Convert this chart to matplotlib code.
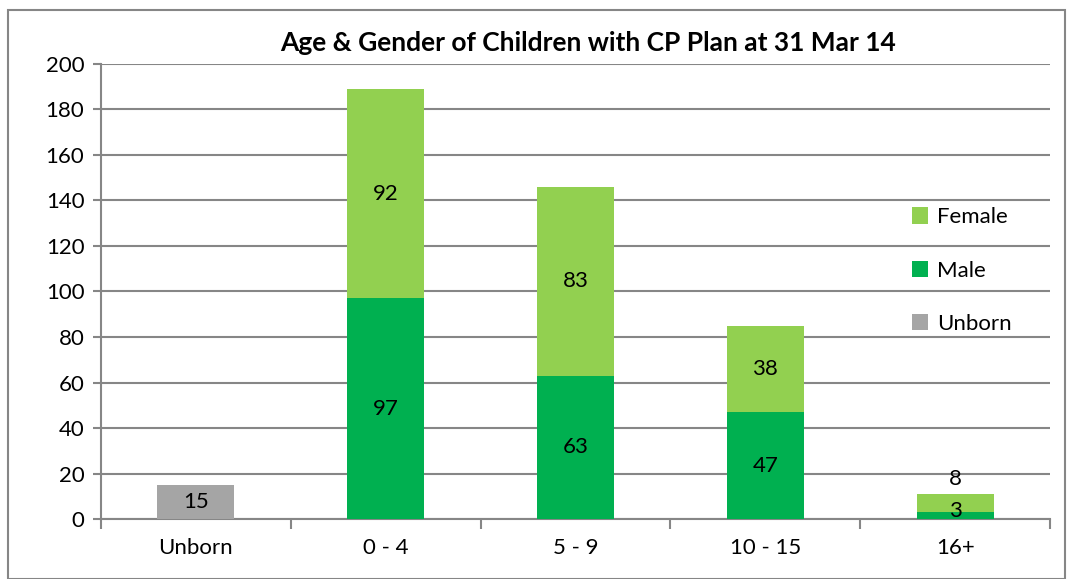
import numpy as np
import matplotlib
matplotlib.use("Agg")
import matplotlib.pyplot as plt
from matplotlib.patches import Rectangle

categories = ["Unborn", "0 - 4", "5 - 9", "10 - 15", "16+"]
unborn = [15, 0, 0, 0, 0]
male = [0, 97, 63, 47, 3]
female = [0, 92, 83, 38, 8]

c_female = "#92D050"
c_male = "#00B050"
c_unborn = "#A5A5A5"
c_grid = "#868686"

plt.rcParams["font.family"] = ["Lato", "DejaVu Sans"]

fig = plt.figure(figsize=(10.68, 5.79), dpi=100)
ax = fig.add_axes([0.0946, 0.1036, 0.8886, 0.7859])

x = np.arange(len(categories))
w = 0.405

ax.bar(x[0], unborn[0], w, color=c_unborn, zorder=3, label="Unborn")
ax.bar(x[1:], male[1:], w, color=c_male, zorder=3, label="Male")
ax.bar(x[1:], female[1:], w, bottom=male[1:], color=c_female, zorder=3, label="Female")

# data labels
fs = 16
ax.text(x[0], unborn[0] / 2, str(unborn[0]), ha="center", va="center", fontsize=fs, zorder=4)
for i in range(1, len(categories)):
    if i == len(categories) - 1:
        ax.text(x[i], 3.5, str(male[i]), ha="center", va="center", fontsize=fs, zorder=4)
        ax.text(x[i], 17.6, str(female[i]), ha="center", va="center", fontsize=fs, zorder=4)
    else:
        ax.text(x[i], male[i] / 2, str(male[i]), ha="center", va="center", fontsize=fs, zorder=4)
        ax.text(x[i], male[i] + female[i] / 2, str(female[i]), ha="center", va="center", fontsize=fs, zorder=4)

ax.set_xlim(-0.5, len(categories) - 0.5)
ax.set_ylim(0, 200)
ax.set_yticks(np.arange(0, 201, 20))
ax.set_xticks(x)
ax.set_xticklabels(categories, fontsize=fs)
ax.tick_params(axis="y", labelsize=fs, length=6, width=1.5, color=c_grid, pad=6)
ax.tick_params(axis="x", length=0, pad=14)
ax.set_xticks(np.arange(-0.5, len(categories), 1), minor=True)
ax.tick_params(axis="x", which="minor", length=7, width=1.5, color=c_grid)

ax.grid(axis="y", color=c_grid, linewidth=1.5, zorder=0)
for s in ["top", "right"]:
    ax.spines[s].set_visible(False)
for s in ["left", "bottom"]:
    ax.spines[s].set_color(c_grid)
    ax.spines[s].set_linewidth(1.5)

ax.text(0.513, 1.047, "Age & Gender of Children with CP Plan at 31 Mar 14", fontsize=19,
        fontweight="bold", ha="center", va="center", transform=ax.transAxes)

handles, labels = ax.get_legend_handles_labels()
order = [2, 1, 0]
ax.legend([handles[k] for k in order], [labels[k] for k in order], loc="center left",
          bbox_to_anchor=(0.833, 0.546), frameon=False, fontsize=fs, labelspacing=1.5,
          handlelength=0.75, handleheight=0.75, handletextpad=0.4)

fig.patches.append(Rectangle((0.0075, 0.0), 0.99, 0.982, transform=fig.transFigure,
                             fill=False, edgecolor="#868686", linewidth=1.5))

fig.savefig("out.png", dpi=100)
